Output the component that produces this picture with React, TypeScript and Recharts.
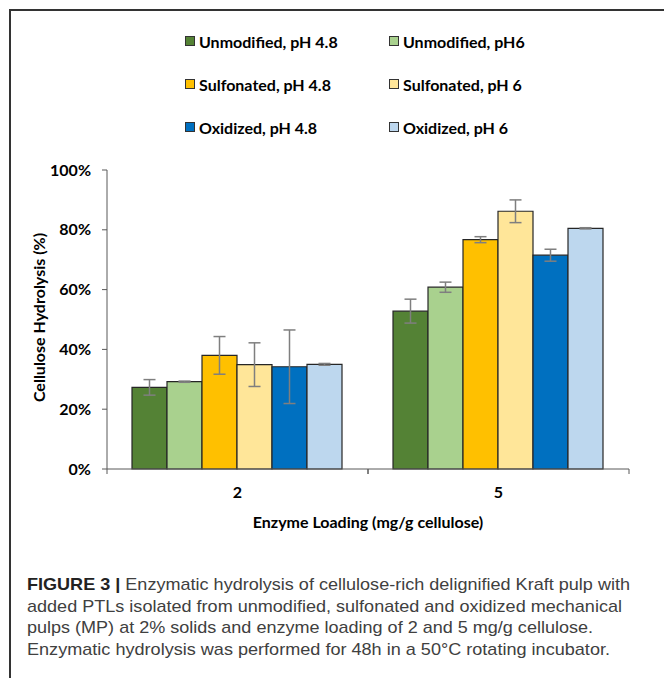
import React from 'react';
import { BarChart, Bar, XAxis, YAxis, ErrorBar, Legend, Label } from 'recharts';

const categories = ['2', '5'];
const seriesNames = [
  'Unmodified, pH 4.8',
  'Unmodified, pH6',
  'Sulfonated, pH 4.8',
  'Sulfonated, pH 6',
  'Oxidized, pH 4.8',
  'Oxidized, pH 6',
];
const unmod48 = [27.3, 52.8];
const unmod48Err = [2.6, 4.0];
const unmod6 = [29.2, 60.8];
const unmod6Err = [0.2, 1.7];
const sulf48 = [38.0, 76.7];
const sulf48Err = [6.3, 1.0];
const sulf6 = [34.9, 86.2];
const sulf6Err = [7.3, 3.8];
const ox48 = [34.2, 71.5];
const ox48Err = [12.3, 2.0];
const ox6 = [35.0, 80.5];
const ox6Err = [0.3, 0.2];
const yTicks = [0, 20, 40, 60, 80, 100];
const colors = ['#548235', '#A9D18E', '#FFC000', '#FFE699', '#0070C0', '#BDD7EE'];

const captionLines = [
  'Enzymatic hydrolysis of cellulose-rich delignified Kraft pulp with',
  'added PTLs isolated from unmodified, sulfonated and oxidized mechanical',
  'pulps (MP) at 2% solids and enzyme loading of 2 and 5 mg/g cellulose.',
  'Enzymatic hydrolysis was performed for 48h in a 50°C rotating incubator.',
];

const keys = ['u48', 'u6', 's48', 's6', 'o48', 'o6'];
const vals = [unmod48, unmod6, sulf48, sulf6, ox48, ox6];
const errs = [unmod48Err, unmod6Err, sulf48Err, sulf6Err, ox48Err, ox6Err];

const data = categories.map((c, i) => {
  const row: any = { cat: c };
  keys.forEach((k, j) => {
    row[k] = vals[j][i];
    row[k + 'e'] = errs[j][i];
  });
  return row;
});

const FONT = 'Lato, "Open Sans", sans-serif';
const AXIS = '#595959';
const FS = 16;

const renderLegend = (props: any) => {
  const items = [...(props.payload || [])].sort(
    (a: any, b: any) => seriesNames.indexOf(a.value) - seriesNames.indexOf(b.value)
  );
  return (
    <div style={{ position: 'relative', width: 664, height: 150, fontFamily: FONT }}>
      {items.map((it: any, i: number) => {
        const col = i % 2;
        const row = Math.floor(i / 2);
        return (
          <div
            key={i}
            style={{
              position: 'absolute',
              left: col === 0 ? 185 : 389,
              top: 32 + row * 43,
              display: 'flex',
              alignItems: 'center',
              height: 18,
              whiteSpace: 'nowrap',
            }}
          >
            <span
              style={{
                display: 'inline-block',
                width: 8,
                height: 8,
                background: it.color,
                border: '1px solid #333',
                marginRight: 4,
              }}
            />
            <span style={{ fontWeight: 700, fontSize: FS, color: '#000' }}>{it.value}</span>
          </div>
        );
      })}
    </div>
  );
};

const CatTick = (props: any) => {
  const { x, y, payload } = props;
  const off = payload && payload.offset ? payload.offset : 0;
  return (
    <g>
      <line x1={x - off} x2={x - off} y1={y} y2={y + 5} stroke={AXIS} strokeWidth={1} />
      <line x1={x + off} x2={x + off} y1={y} y2={y + 5} stroke={AXIS} strokeWidth={1} />
      <text x={x} y={y + 29} textAnchor="middle" fontFamily={FONT} fontWeight={700} fontSize={FS} fill="#000">
        {payload.value}
      </text>
    </g>
  );
};

const YTitle = (props: any) => {
  const vb = props.viewBox || { x: 0, y: 0, width: 0, height: 0 };
  const cx = 38;
  const cy = vb.y + vb.height / 2 - 2;
  return (
    <text
      x={cx}
      y={cy}
      transform={`rotate(-90 ${cx} ${cy})`}
      textAnchor="middle"
      dominantBaseline="central"
      fontFamily={FONT}
      fontWeight={700}
      fontSize={FS}
      fill="#000"
    >
      Cellulose Hydrolysis (%)
    </text>
  );
};

export default function App() {
  return (
    <div
      style={{
        position: 'absolute',
        left: 0,
        top: 0,
        width: 664,
        height: 678,
        background: '#fff',
        overflow: 'hidden',
      }}
    >
      <div
        style={{
          position: 'absolute',
          left: 9,
          top: 9,
          width: 664,
          height: 678,
          borderLeft: '2px solid #333',
          borderTop: '2px solid #333',
        }}
      />
      <div style={{ position: 'absolute', left: 0, top: 0 }}>
        <BarChart
          width={664}
          height={545}
          data={data}
          margin={{ top: 170, right: 35, bottom: 16, left: 37 }}
          barCategoryGap={25}
          barGap={0}
        >
          <XAxis
            dataKey="cat"
            height={60}
            axisLine={{ stroke: AXIS, strokeWidth: 1 }}
            tickLine={false}
            tickSize={0}
            tickMargin={0}
            tick={<CatTick />}
            interval={0}
          >
            <Label
              value="Enzyme Loading (mg/g cellulose)"
              position="insideBottom"
              offset={1}
              style={{ fontFamily: FONT, fontWeight: 700, fontSize: FS, fill: '#000' }}
            />
          </XAxis>
          <YAxis
            type="number"
            width={70}
            domain={[0, 100]}
            ticks={yTicks}
            tickFormatter={(v: number) => `${v}%`}
            axisLine={{ stroke: AXIS, strokeWidth: 1 }}
            tickLine={{ stroke: AXIS, strokeWidth: 1 }}
            tickSize={5}
            tickMargin={11}
            tick={{ fontFamily: FONT, fontWeight: 700, fontSize: FS, fill: '#000' }}
          >
            <Label content={<YTitle />} />
          </YAxis>
          <Legend
            layout="horizontal"
            verticalAlign="middle"
            align="center"
            content={renderLegend}
            wrapperStyle={{ top: 0, left: 0, width: 664, height: 150 }}
          />
          {keys.map((k, j) => (
            <Bar
              key={k}
              dataKey={k}
              name={seriesNames[j]}
              fill={colors[j]}
              stroke="#262626"
              strokeWidth={1.2}
              isAnimationActive={false}
            >
              <ErrorBar dataKey={k + 'e'} width={6} stroke="#7f7f7f" strokeWidth={1.5} />
            </Bar>
          ))}
        </BarChart>
      </div>
      <svg
        width={664}
        height={678}
        style={{ position: 'absolute', left: 0, top: 0, pointerEvents: 'none' }}
      >
        <text
          x={27}
          y={590}
          fontFamily='"Liberation Sans", Arial, sans-serif'
          fontSize={17}
          fill="#404040"
          textLength={603}
          lengthAdjust="spacingAndGlyphs"
        >
          <tspan fontWeight={700} fill="#222">FIGURE 3 | </tspan>
          {captionLines[0]}
        </text>
        <text
          x={27}
          y={611.5}
          fontFamily='"Liberation Sans", Arial, sans-serif'
          fontSize={17}
          fill="#404040"
          textLength={595}
          lengthAdjust="spacingAndGlyphs"
        >
          {captionLines[1]}
        </text>
        <text
          x={27}
          y={633}
          fontFamily='"Liberation Sans", Arial, sans-serif'
          fontSize={17}
          fill="#404040"
          textLength={566}
          lengthAdjust="spacingAndGlyphs"
        >
          {captionLines[2]}
        </text>
        <text
          x={27}
          y={654.5}
          fontFamily='"Liberation Sans", Arial, sans-serif'
          fontSize={17}
          fill="#404040"
          textLength={583}
          lengthAdjust="spacingAndGlyphs"
        >
          {captionLines[3]}
        </text>
      </svg>
    </div>
  );
}
